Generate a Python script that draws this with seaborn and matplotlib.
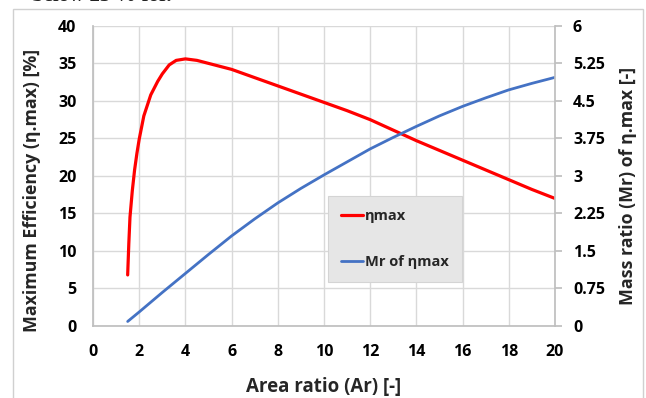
import matplotlib
matplotlib.use("Agg")
import matplotlib.pyplot as plt
import seaborn as sns
import pandas as pd
from matplotlib.patches import Rectangle

# Maximum efficiency versus area ratio
ar_eta = [1.5, 1.55, 1.6, 1.7, 1.8, 1.9, 2.0, 2.2, 2.5, 2.8, 3.0, 3.3, 3.6, 4.0,
          4.5, 5, 6, 7, 8, 9, 10, 11, 12, 13, 14, 15, 16, 17, 18, 19, 20]
eta_max = [6.8, 11.0, 14.5, 18.0, 20.8, 23.0, 24.9, 28.0, 30.8, 32.6, 33.6, 34.8,
           35.4, 35.6, 35.4, 35.0, 34.2, 33.1, 32.0, 30.9, 29.8, 28.7, 27.5, 26.1,
           24.7, 23.4, 22.1, 20.8, 19.5, 18.2, 17.0]

# Mass ratio at the point of maximum efficiency
ar_mr = [1.5, 2, 3, 4, 5, 6, 7, 8, 9, 10, 11, 12, 13, 14, 15, 16, 17, 18, 19, 20]
mr_eta = [0.09, 0.28, 0.67, 1.05, 1.43, 1.80, 2.14, 2.46, 2.75, 3.02, 3.28, 3.54,
          3.77, 3.99, 4.20, 4.39, 4.56, 4.72, 4.85, 4.97]

x_ticks = [0, 2, 4, 6, 8, 10, 12, 14, 16, 18, 20]
left_ticks = [0, 5, 10, 15, 20, 25, 30, 35, 40]
right_ticks = [0, 0.75, 1.5, 2.25, 3, 3.75, 4.5, 5.25, 6]
right_labels = ["0", "0.75", "1.5", "2.25", "3", "3.75", "4.5", "5.25", "6"]

sns.set_theme(style="white")
plt.rcParams["font.family"] = ["Open Sans", "DejaVu Sans"]
plt.rcParams["font.weight"] = "bold"

df_eta = pd.DataFrame({"Ar": ar_eta, "eta": eta_max})
df_mr = pd.DataFrame({"Ar": ar_mr, "Mr": mr_eta})

fig = plt.figure(figsize=(6.46, 3.98), dpi=100)
ax = fig.add_axes([0.144, 0.181, 0.715, 0.754])
ax2 = ax.twinx()

# chart frame and the line of running text just above it
fig.patches.append(Rectangle((13 / 646, -0.05), (643 - 13) / 646, 1 - 9 / 398 + 0.05,
                             transform=fig.transFigure, fill=False,
                             edgecolor="#d0d0d0", linewidth=1.0))
fig.text(0.05, 1 - 1 / 398, "below 25 % for.", family=["Liberation Serif", "DejaVu Serif"],
         fontsize=15, fontweight="bold", va="baseline", ha="left", color="#222222")

grid_c = "#d9d9d9"
ax.set_xlim(0, 20)
ax.set_ylim(0, 40)
ax2.set_ylim(0, 6)
ax.set_xticks(x_ticks)
ax.set_yticks(left_ticks)
ax2.set_yticks(right_ticks)
ax2.set_yticklabels(right_labels)
ax.grid(True, color=grid_c, linewidth=1.0)
ax.set_axisbelow(True)

sns.lineplot(data=df_eta, x="Ar", y="eta", ax=ax, color="#ff0000",
             linewidth=2.3, label="\u03b7max", legend=False)
sns.lineplot(data=df_mr, x="Ar", y="Mr", ax=ax2, color="#4472c4",
             linewidth=2.0, label="Mr of \u03b7max", legend=False)

for s in ["top", "right"]:
    ax.spines[s].set_visible(False)
for s in ["top", "left", "bottom"]:
    ax2.spines[s].set_visible(False)
ax.spines["left"].set_color("#bfbfbf")
ax.spines["bottom"].set_color("#bfbfbf")
ax2.spines["right"].set_color("#bfbfbf")

ax.tick_params(axis="x", length=0, labelsize=11.5, pad=13, labelcolor="#000000")
ax.tick_params(axis="y", length=0, labelsize=11.5, pad=12, labelcolor="#000000")
ax2.tick_params(axis="y", length=5, color="#bfbfbf", labelsize=11.5, pad=8,
                labelcolor="#000000")
for lab in ax.get_xticklabels() + ax.get_yticklabels() + ax2.get_yticklabels():
    lab.set_fontweight("bold")

ax.set_xlabel("Area ratio (Ar) [-]", fontsize=13.5, fontweight="bold", labelpad=12)
ax.set_ylabel("Maximum Efficiency (\u03b7.max) [%]", fontsize=12.8, fontweight="bold")
ax2.set_ylabel("Mass ratio (Mr) of \u03b7.max [-]", fontsize=12.8, fontweight="bold")
ax.yaxis.set_label_coords(-0.113, 0.45)
ax2.yaxis.set_label_coords(1.138, 0.465)

h1, lb1 = ax.get_legend_handles_labels()
h2, lb2 = ax2.get_legend_handles_labels()
leg = ax2.legend(h1 + h2, lb1 + lb2, loc="upper left", bbox_to_anchor=(0.509, 0.433),
                 frameon=True, fancybox=False, framealpha=1.0, facecolor="#e6e6e6",
                 edgecolor="#d4d4d4", prop={"weight": "bold", "size": 10.5},
                 handlelength=1.5, handletextpad=0.1, labelspacing=2.2,
                 borderpad=0.9, borderaxespad=0)
leg.get_frame().set_linewidth(0.8)

fig.savefig("out.png", dpi=100)
